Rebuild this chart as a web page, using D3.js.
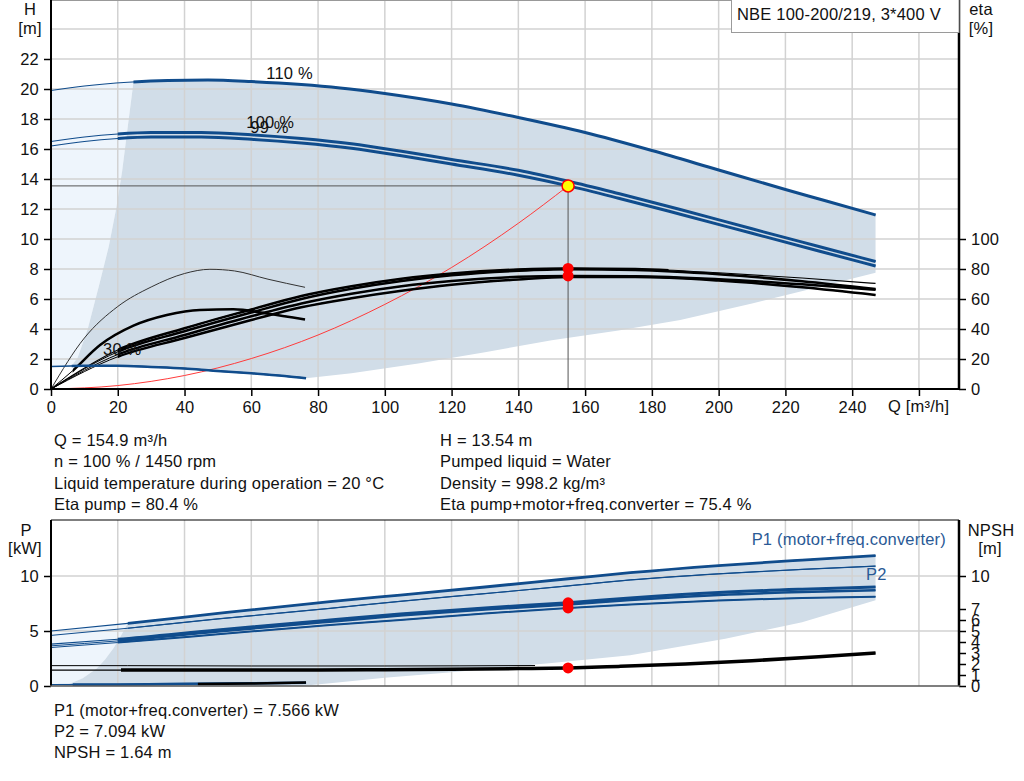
<!DOCTYPE html>
<html>
<head>
<meta charset="utf-8">
<script src="https://cdn.jsdelivr.net/npm/d3@7"></script>
<style>
  body { margin: 0; background: #fff; }
  svg text { font-family: "Liberation Sans", Arial, sans-serif; font-size: 16.5px; letter-spacing: 0.2px; fill: #111; }
</style>
</head>
<body>
<svg id="chart" width="1024" height="781"></svg>
<script>
// pump curves, [Q m3/h, value]
const qTicks = [0, 20, 40, 60, 80, 100, 120, 140, 160, 180, 200, 220, 240, 260];
const hTicks = [0, 2, 4, 6, 8, 10, 12, 14, 16, 18, 20, 22];
const etaTicks = [0, 20, 40, 60, 80, 100];
const pTicks = [0, 5, 10];
const npshTicks = [0, 1, 2, 3, 4, 5, 6, 7, 10];

const h110 = [[0,19.9],[10,20.2],[23,20.45],[35,20.57],[47,20.6],[60,20.5],[75,20.3],[86.6,20.07],[100,19.7],[120,19.0],[140,18.1],[160,17.1],[180,15.9],[200,14.6],[220,13.3],[232,12.55],[247,11.6]];
const h100 = [[0,16.5],[10,16.8],[20,17.0],[30,17.1],[45,17.1],[60,16.95],[75,16.7],[90,16.35],[105,15.85],[120,15.3],[140,14.58],[155,13.85],[170,13.03],[188.5,11.97],[210,10.68],[230,9.5],[247,8.5]];
const h99 = [[0,16.2],[10,16.5],[20,16.7],[30,16.8],[45,16.8],[60,16.65],[75,16.4],[90,16.05],[105,15.55],[120,15.0],[140,14.25],[155,13.54],[170,12.72],[188.5,11.65],[210,10.38],[230,9.2],[247,8.2]];
const h30 = [[0,1.5],[10,1.55],[20,1.55],[30,1.47],[40,1.37],[48.6,1.22],[60,1.05],[70,0.87],[76.4,0.72]];
const systemCurve = [[0,0],[20,0.23],[40,0.9],[60,2.03],[80,3.6],[100,5.64],[120,8.1],[140,11.05],[154.9,13.54]];

const hLeftEdge = [[24.7,20.45],[23,17.5],[21.3,14.5],[19.5,12.0],[17.3,9.5],[14.5,7.0],[11,4.0],[8,2.1],[6.2,1.55]];
const hLowerEdge = [[76.4,0.72],[90,1.05],[110,1.7],[130,2.45],[150,3.25],[170,3.9],[188.5,4.6],[210,5.7],[230,6.8],[247,7.75]];

const etaPump100 = [[0,0],[20,26],[40,40.5],[60,53],[75,62],[90,68.5],[105,73.5],[120,77],[140,79.7],[155,80.4],[175,80],[200,77.5],[225,74],[247,70.4]];
const etaPump99 = [[0,0],[20,24.8],[40,38.5],[60,51],[75,60],[90,66.8],[105,72],[120,75.8],[140,78.8],[155,79.8],[175,79.3],[200,76.5],[225,71.8],[247,66.6]];
const etaTotal100 = [[0,0],[20,23],[40,36],[60,48.5],[75,57],[90,63.5],[105,68.5],[120,72],[140,74.8],[155,75.4],[175,75.2],[200,73.2],[225,69.8],[247,66.2]];
const etaTotal99 = [[0,0],[20,21.5],[40,34],[60,46],[75,54.5],[90,60.5],[105,65.5],[120,69.5],[140,73],[155,74.6],[175,74.6],[200,72.3],[225,67.8],[247,62.7]];
const etaPump30 = [[0,0],[10,34],[20,55],[30,68],[40,77],[47.6,79.8],[55,78.7],[65,73.2],[76.1,67.8]];
const etaTotal30 = [[0,0],[6.5,12.2],[14.7,29.3],[24.7,42.2],[34.7,49.3],[44.6,52.7],[54.6,53.1],[64.6,50.4],[76.1,46.4]];

const p1_110 = [[0,5.0],[23,5.7],[50,6.6],[83.6,7.67],[104.6,8.27],[130,9.0],[155,9.75],[173.5,10.3],[200,10.95],[225,11.45],[247,11.85]];
const p2_110 = [[0,4.6],[23,5.25],[50,6.1],[83.6,7.06],[104.6,7.7],[130,8.4],[155,9.1],[173.5,9.64],[200,10.2],[225,10.6],[247,10.9]];
const p1_100 = [[0,3.8],[20,4.25],[50,5.1],[83.6,6.0],[104.6,6.55],[130,7.1],[155,7.57],[173.5,8.0],[200,8.5],[225,8.8],[247,9.0]];
const p1_99 = [[0,3.65],[20,4.1],[50,4.95],[83.6,5.85],[104.6,6.4],[130,6.95],[155,7.4],[173.5,7.82],[200,8.28],[225,8.55],[247,8.7]];
const p2_100 = [[0,3.5],[20,3.95],[50,4.7],[83.6,5.55],[104.6,6.0],[130,6.6],[155,7.09],[173.5,7.4],[200,7.78],[225,8.0],[247,8.12]];
const p1_30 = [[0,0.12],[20,0.14],[40,0.2],[60,0.25],[76.4,0.3]];
const npsh100 = [[0,1.45],[21,1.45],[40,1.45],[60,1.45],[80,1.45],[100,1.48],[120,1.52],[140,1.58],[155,1.64],[170,1.78],[190,2.0],[210,2.3],[230,2.65],[247,3.0]];
const npsh110 = [[0,1.85],[23,1.85],[60,1.82],[100,1.82],[145,1.86]];
const npsh30 = [[44,0.18],[60,0.22],[76.4,0.32]];

const pLeftEdge = [[23,5.7],[21,4.6],[18.7,3.43],[16.2,2.4],[13.7,1.6],[9.5,0.7],[4.7,0.09],[3,0]];
const pLowerEdge = [[76.4,0.05],[83.6,0.25],[100,0.75],[120,1.25],[150,2.1],[173.5,2.8],[202,4.3],[225,5.8],[247,7.8]];

const duty = { q: 154.9, h: 13.54, etaPump: 80.4, etaTotal: 75.4, p1: 7.566, p2: 7.094, npsh: 1.64 };

const speedLabels = [
  { text: "110 %", q: 64.5, h: 20.7 },
  { text: "100 %", q: 58.5, h: 17.4 },
  { text: "99 %", q: 59.7, h: 17.05 },
  { text: "30 %", q: 15.6, h: 2.25 }
];
const title = "NBE 100-200/219, 3*400 V";
const infoLeft = ["Q = 154.9 m³/h", "n = 100 % / 1450 rpm", "Liquid temperature during operation = 20 °C", "Eta pump = 80.4 %"];
const infoRight = ["H = 13.54 m", "Pumped liquid = Water", "Density = 998.2 kg/m³", "Eta pump+motor+freq.converter = 75.4 %"];
const infoBottom = ["P1 (motor+freq.converter) = 7.566 kW", "P2 = 7.094 kW", "NPSH = 1.64 m"];

window.addEventListener("DOMContentLoaded", () => {
  const svg = d3.select("#chart");
  const defs = svg.append("defs");
  const blue = "#104c8c";
  const gridColor = "#d2d2d2";
  const left = 51, right = 959;
  const topT = 0, topB = 389;
  const botT = 520, botB = 686;

  const x = d3.scaleLinear().domain([0, 272]).range([left, right]);
  const yH = d3.scaleLinear().domain([0, 26]).range([topB, topT - 1]);
  const yEta = d3.scaleLinear().domain([0, 260]).range([topB, topT - 1]);
  const yP = d3.scaleLinear().domain([0, 15]).range([botB, botT + 1]);
  const yN = d3.scaleLinear().domain([0, 15]).range([botB, botT + 1]);

  let clipCount = 0;
  function clipRect(x0, y0, x1, y1) {
    const id = "clip" + (clipCount++);
    defs.append("clipPath").attr("id", id).append("rect")
      .attr("x", x0).attr("y", y0).attr("width", x1 - x0).attr("height", y1 - y0);
    return `url(#${id})`;
  }

  function area(g, pts, ys, fill, clip) {
    g.append("path")
      .datum(pts)
      .attr("d", d3.line().x(d => x(d[0])).y(d => ys(d[1])))
      .attr("fill", fill)
      .attr("stroke", "none")
      .attr("clip-path", clip);
  }

  // thin line over the whole curve, thick inside the allowed range
  function curve(g, data, ys, o) {
    const gen = d3.line().x(d => x(d[0])).y(d => ys(d[1])).curve(d3.curveMonotoneX);
    g.append("path").datum(data).attr("d", gen)
      .attr("fill", "none").attr("stroke", o.color).attr("stroke-width", o.thin);
    if (o.from != null) {
      const to = o.to != null ? x(o.to) : right;
      g.append("path").datum(data).attr("d", gen)
        .attr("fill", "none").attr("stroke", o.color).attr("stroke-width", o.thick)
        .attr("clip-path", clipRect(x(o.from), -20, to, 800));
    }
  }

  function grid(g, yScale, yVals, y0, y1) {
    qTicks.slice(1).forEach(q => {
      g.append("line").attr("x1", x(q)).attr("x2", x(q)).attr("y1", y0).attr("y2", y1)
        .attr("stroke", gridColor).attr("stroke-width", 1.5);
    });
    yVals.forEach(v => {
      g.append("line").attr("x1", left).attr("x2", right).attr("y1", yScale(v)).attr("y2", yScale(v))
        .attr("stroke", gridColor).attr("stroke-width", 1.5);
    });
  }

  function styleAxis(a) {
    a.select(".domain").remove();
    a.selectAll(".tick line").attr("stroke", "#000").attr("stroke-width", 1.5);
    a.selectAll(".tick text").attr("font-size", "16.5px").attr("fill", "#111")
      .attr("font-family", "'Liberation Sans', Arial, sans-serif");
  }

  // ---------- top chart: H and eta ----------
  const gt = svg.append("g");
  const topClip = clipRect(left, topT, right, topB);

  const lightH = [[0, 1.5]].concat(h110.filter(d => d[0] <= 24.7), [[24.7, 20.45]], hLeftEdge, [[6.2, 1.55], [0, 1.5]]);
  area(gt, lightH, yH, "#eef5fc", topClip);
  const greyH = h110.filter(d => d[0] >= 24.7)
    .concat([[247, 7.75]], hLowerEdge.slice().reverse(), h30.filter(d => d[0] >= 6.2).reverse(), [[6.2, 1.55]], hLeftEdge.slice().reverse());
  greyH.unshift([24.7, 20.45]);
  area(gt, greyH, yH, "#d1dde8", topClip);

  grid(gt, yH, hTicks.slice(1).concat([24]), topT, topB);
  gt.append("line").attr("x1", left).attr("x2", right).attr("y1", 0.5).attr("y2", 0.5)
    .attr("stroke", "#999").attr("stroke-width", 1);

  // system curve and duty point guides
  curve(gt, systemCurve, yH, { color: "#ff3b3b", thin: 1 });
  gt.append("line").attr("x1", left).attr("x2", x(duty.q)).attr("y1", yH(duty.h)).attr("y2", yH(duty.h))
    .attr("stroke", "#555").attr("stroke-width", 1);
  gt.append("line").attr("x1", x(duty.q)).attr("x2", x(duty.q)).attr("y1", yH(duty.h)).attr("y2", topB)
    .attr("stroke", "#555").attr("stroke-width", 1);

  // eta curves
  curve(gt, etaPump30, yEta, { color: "#333", thin: 1 });
  curve(gt, etaTotal30, yEta, { color: "#000", thin: 1, thick: 2.5, from: 6.5 });
  curve(gt, etaTotal99, yEta, { color: "#000", thin: 1, thick: 2.5, from: 20 });
  curve(gt, etaTotal100, yEta, { color: "#000", thin: 1, thick: 2.5, from: 20 });
  curve(gt, etaPump99, yEta, { color: "#000", thin: 1, thick: 2.5, from: 20 });
  curve(gt, etaPump100, yEta, { color: "#000", thin: 1.2, thick: 2.5, from: 20, to: 185 });

  // head curves
  curve(gt, h30, yH, { color: blue, thin: 1.5, thick: 2.5, from: 6.2 });
  curve(gt, h99, yH, { color: blue, thin: 1.2, thick: 3, from: 20 });
  curve(gt, h100, yH, { color: blue, thin: 1.2, thick: 3, from: 20 });
  curve(gt, h110, yH, { color: blue, thin: 1.2, thick: 3, from: 24.7 });

  speedLabels.forEach(l => {
    gt.append("text").attr("x", x(l.q)).attr("y", yH(l.h)).text(l.text);
  });

  // axes
  const ax = gt.append("g").attr("transform", `translate(0,${topB})`)
    .call(d3.axisBottom(x).tickValues(qTicks).tickSize(7).tickPadding(5).tickFormat(d => d === 260 ? "" : d));
  styleAxis(ax);
  const ayH = gt.append("g").attr("transform", `translate(${left},0)`)
    .call(d3.axisLeft(yH).tickValues(hTicks).tickSize(7).tickPadding(5));
  styleAxis(ayH);
  const ayE = gt.append("g").attr("transform", `translate(${right},0)`)
    .call(d3.axisRight(yEta).tickValues(etaTicks).tickSize(7).tickPadding(5));
  styleAxis(ayE);
  gt.append("line").attr("x1", left).attr("x2", left).attr("y1", 0).attr("y2", topB).attr("stroke", "#000").attr("stroke-width", 2);
  gt.append("line").attr("x1", right).attr("x2", right).attr("y1", 0).attr("y2", topB).attr("stroke", "#000").attr("stroke-width", 2.5);
  gt.append("line").attr("x1", left - 1).attr("x2", right + 1).attr("y1", topB).attr("y2", topB).attr("stroke", "#000").attr("stroke-width", 2);

  // duty markers
  [duty.etaPump, duty.etaTotal].forEach(v => {
    gt.append("circle").attr("cx", x(duty.q)).attr("cy", yEta(v)).attr("r", 5.5).attr("fill", "#ff0000");
  });
  gt.append("circle").attr("cx", x(duty.q)).attr("cy", yH(duty.h)).attr("r", 6)
    .attr("fill", "#ffff00").attr("stroke", "#ff0000").attr("stroke-width", 1.5);

  // axis titles
  gt.append("text").attr("x", 30).attr("y", 15).attr("text-anchor", "middle").text("H");
  gt.append("text").attr("x", 30).attr("y", 34).attr("text-anchor", "middle").text("[m]");
  gt.append("text").attr("x", 981).attr("y", 15).attr("text-anchor", "middle").text("eta");
  gt.append("text").attr("x", 981).attr("y", 34).attr("text-anchor", "middle").text("[%]");
  gt.append("text").attr("x", 888).attr("y", 412).text("Q [m³/h]");

  // title box
  gt.append("rect").attr("x", 731.5).attr("y", -1).attr("width", right - 731.5).attr("height", 33.5)
    .attr("fill", "#fff").attr("stroke", "#9a9a9a").attr("stroke-width", 1);
  gt.append("text").attr("x", 737).attr("y", 20).text(title);

  // ---------- info text ----------
  infoLeft.forEach((t, i) => svg.append("text").attr("x", 54).attr("y", 446 + i * 21.4).text(t));
  infoRight.forEach((t, i) => svg.append("text").attr("x", 440).attr("y", 446 + i * 21.4).text(t));
  infoBottom.forEach((t, i) => svg.append("text").attr("x", 54).attr("y", 716 + i * 21.2).text(t));

  // ---------- bottom chart: P and NPSH ----------
  const gb = svg.append("g");
  const botClip = clipRect(left, botT, right, botB);

  const lightP = [[0, 0], [0, 5.0]].concat(p1_110.filter(d => d[0] <= 23), pLeftEdge);
  area(gb, lightP, yP, "#eef5fc", botClip);
  const greyP = p1_110.filter(d => d[0] >= 23)
    .concat([[247, 7.8]], pLowerEdge.slice().reverse(), [[76.4, 0], [3, 0]], pLeftEdge.slice().reverse());
  area(gb, greyP, yP, "#d1dde8", botClip);

  grid(gb, yP, [5, 10], botT, botB);

  curve(gb, npsh110, yN, { color: "#000", thin: 1 });
  curve(gb, npsh100, yN, { color: "#000", thin: 1.2, thick: 3.5, from: 21 });
  curve(gb, p1_30, yP, { color: blue, thin: 1.2, thick: 2.5, from: 6.5 });
  curve(gb, npsh30, yN, { color: "#000", thin: 2.5 });
  curve(gb, p2_100, yP, { color: blue, thin: 1, thick: 2, from: 20 });
  curve(gb, p1_99, yP, { color: blue, thin: 1, thick: 2.5, from: 20 });
  curve(gb, p1_100, yP, { color: blue, thin: 1.2, thick: 3, from: 20 });
  curve(gb, p2_110, yP, { color: blue, thin: 1, thick: 1.2, from: 23 });
  curve(gb, p1_110, yP, { color: blue, thin: 1.2, thick: 2.8, from: 23 });

  const ayP = gb.append("g").attr("transform", `translate(${left},0)`)
    .call(d3.axisLeft(yP).tickValues(pTicks).tickSize(7).tickPadding(5));
  styleAxis(ayP);
  const ayN = gb.append("g").attr("transform", `translate(${right},0)`)
    .call(d3.axisRight(yN).tickValues(npshTicks).tickSize(7).tickPadding(5));
  styleAxis(ayN);
  gb.append("line").attr("x1", left).attr("x2", right).attr("y1", botT).attr("y2", botT).attr("stroke", "#000").attr("stroke-width", 1.2);
  gb.append("line").attr("x1", left).attr("x2", left).attr("y1", botT).attr("y2", botB).attr("stroke", "#000").attr("stroke-width", 2);
  gb.append("line").attr("x1", right).attr("x2", right).attr("y1", botT).attr("y2", botB).attr("stroke", "#000").attr("stroke-width", 2.5);
  gb.append("line").attr("x1", left - 1).attr("x2", right + 1).attr("y1", botB).attr("y2", botB).attr("stroke", "#555").attr("stroke-width", 1.5);

  [[yP, duty.p1], [yP, duty.p2], [yN, duty.npsh]].forEach(([s, v]) => {
    gb.append("circle").attr("cx", x(duty.q)).attr("cy", s(v)).attr("r", 5.5).attr("fill", "#ff0000");
  });

  gb.append("text").attr("x", 946).attr("y", 545).attr("text-anchor", "end")
    .style("fill", "#2a5a96").text("P1 (motor+freq.converter)");
  gb.append("text").attr("x", 866).attr("y", 580).style("fill", "#2a5a96").text("P2");
  gb.append("text").attr("x", 26).attr("y", 536).attr("text-anchor", "middle").text("P");
  gb.append("text").attr("x", 25).attr("y", 554).attr("text-anchor", "middle").text("[kW]");
  gb.append("text").attr("x", 991).attr("y", 536).attr("text-anchor", "middle").text("NPSH");
  gb.append("text").attr("x", 990).attr("y", 554).attr("text-anchor", "middle").text("[m]");
});
</script>
</body>
</html>
